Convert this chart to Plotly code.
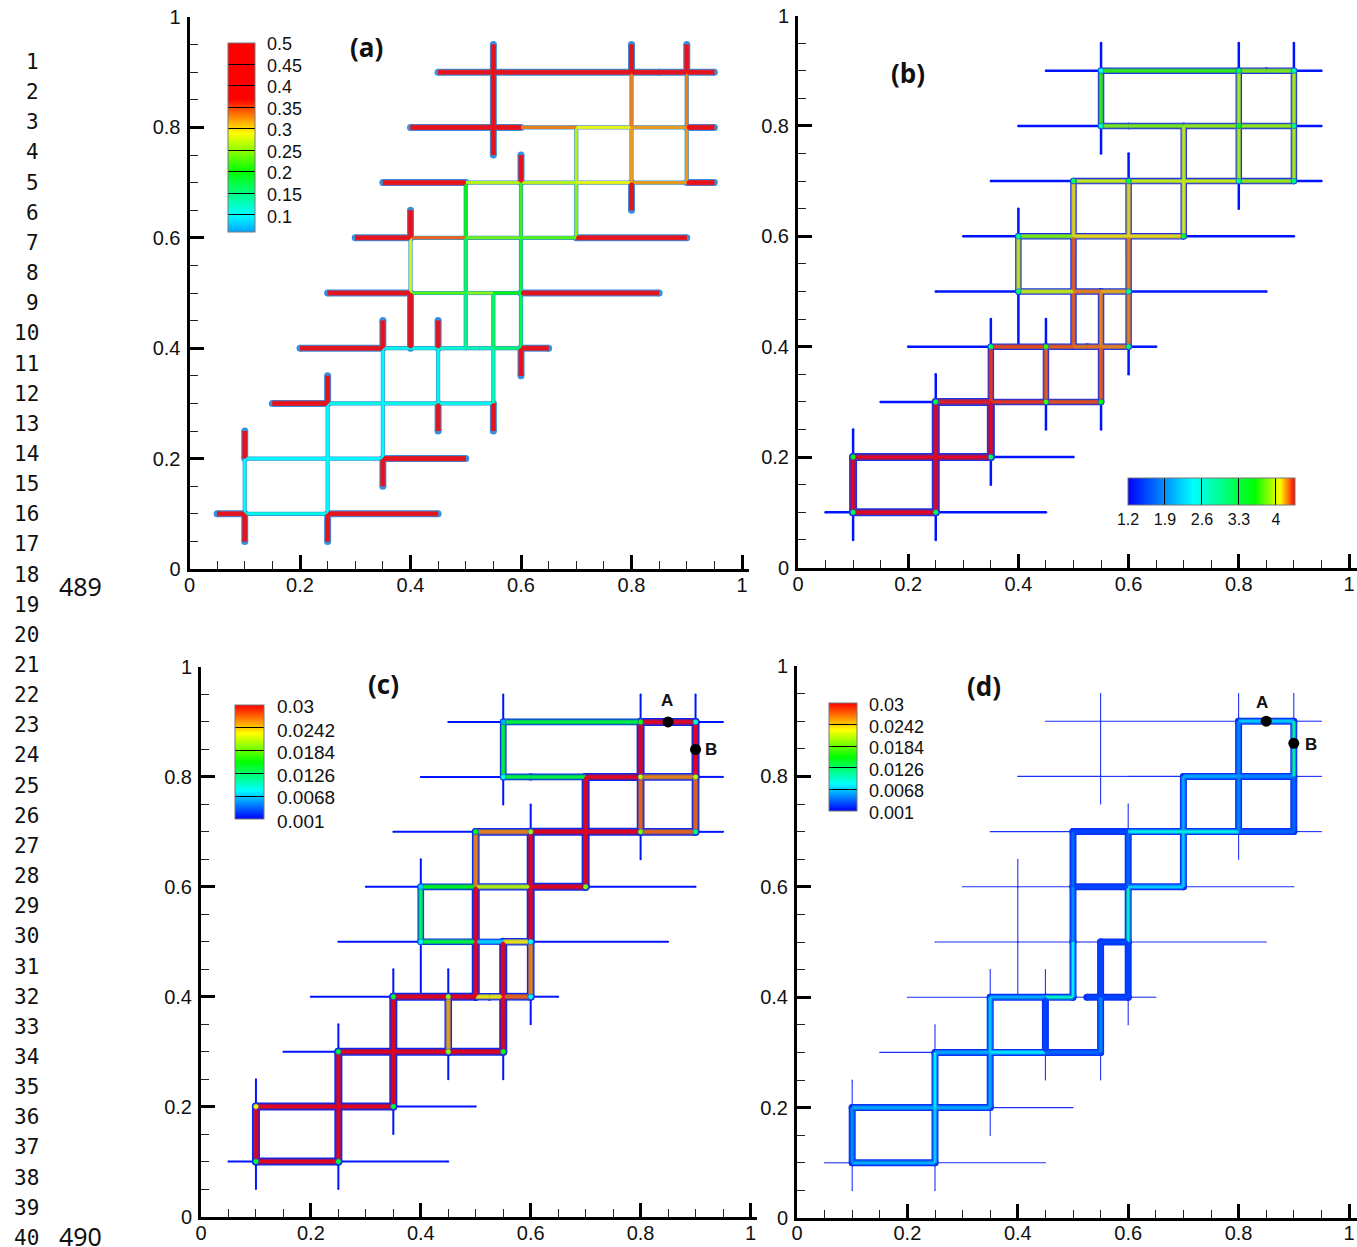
import plotly.graph_objects as go
from plotly.colors import sample_colorscale, find_intermediate_color

W, H = 1357, 1247

# Fracture network: one row per fracture piece
SEG_X0 = [.05,.1,.25, .1,.25,.35, .15,.25,.35,.45, .2,.35,.45,.5,.525,.55,.6, .25,.4,.5,.55,.6, .3,.4,.5,.6,.7,
          .35,.5,.6,.7,.8,.9, .4,.55,.6,.7,.8,.9, .45,.55,.8,.85,.9,
          .1,.1,.1, .25,.25,.25,.25, .35,.35,.35,.35, .45,.45,.45, .55,.55,.55, .4,.4,.4, .5,.5,.5,
          .6,.6,.6,.6,.6, .7,.7, .55,.55,.55, .8,.8,.8,.8, .9,.9,.9]
SEG_Y0 = [.1,.1,.1, .2,.2,.2, .3,.3,.3,.3, .4,.4,.4,.4,.4,.4,.4, .5,.5,.5,.5,.5, .6,.6,.6,.6,.6,
          .7,.7,.7,.7,.7,.7, .8,.8,.8,.8,.8,.8, .9,.9,.9,.9,.9,
          .05,.1,.2, .05,.1,.2,.3, .15,.2,.3,.4, .25,.3,.4, .25,.3,.4, .4,.5,.6, .4,.5,.6,
          .35,.4,.5,.6,.7, .6,.7, .75,.8,.9, .65,.7,.8,.9, .7,.8,.9]
SEG_X1 = [.1,.25,.45, .25,.35,.5, .25,.35,.45,.55, .35,.45,.5,.525,.55,.6,.65, .4,.5,.55,.6,.85, .4,.5,.6,.7,.9,
          .5,.6,.7,.8,.9,.95, .55,.6,.7,.8,.9,.95, .55,.8,.85,.9,.95,
          .1,.1,.1, .25,.25,.25,.25, .35,.35,.35,.35, .45,.45,.45, .55,.55,.55, .4,.4,.4, .5,.5,.5,
          .6,.6,.6,.6,.6, .7,.7, .55,.55,.55, .8,.8,.8,.8, .9,.9,.9]
SEG_Y1 = [.1,.1,.1, .2,.2,.2, .3,.3,.3,.3, .4,.4,.4,.4,.4,.4,.4, .5,.5,.5,.5,.5, .6,.6,.6,.6,.6,
          .7,.7,.7,.7,.7,.7, .8,.8,.8,.8,.8,.8, .9,.9,.9,.9,.9,
          .1,.2,.25, .1,.2,.3,.35, .2,.3,.4,.45, .3,.4,.45, .3,.4,.5, .5,.6,.65, .5,.6,.7,
          .4,.5,.6,.7,.75, .7,.8, .8,.9,.95, .7,.8,.9,.95, .8,.9,.95]

VALUES_A = [.45,.11,.45, .1,.1,.45, .45,.11,.11,.11, .45,.11,.12,.13,.13,.16,.45, .45,.23,.25,.2,.45, .45,.34,.24,.23,.45,
            .45,.27,.27,.29,.32,.45, .45,.45,.33,.29,.32,.45, .45,.45,.45,.45,.45,
            .45,.1,.45, .45,.1,.1,.45, .45,.1,.1,.45, .45,.11,.45, .45,.13,.17, .45,.28,.45, .15,.17,.2,
            .45,.17,.18,.22,.45, .25,.27, .45,.45,.45, .45,.32,.33,.45, .32,.33,.45]
VALUES_B = [1.2,4.36,1.2, 4.36,4.36,1.2, 1.2,4.33,4.3,4.27, 1.2,4.27,4.25,4.22,4.22,4.2,1.2, 1.2,4.0,4.2,4.15,1.2, 1.2,3.85,4.1,4.1,1.2,
            1.2,4.0,4.0,4.0,3.9,1.2, 1.2,3.85,3.85,3.9,3.9,1.2, 1.2,3.7,3.85,3.85,1.2,
            1.2,4.36,1.2, 1.2,4.36,4.36,1.2, 1.2,4.36,4.3,1.2, 1.2,4.25,1.2, 1.2,4.25,4.2, 1.2,4.0,1.2, 4.25,4.25,4.1,
            1.2,4.2,4.2,4.1,1.2, 4.05,4.0, 1.2,3.7,1.2, 1.2,3.95,3.95,1.2, 3.95,3.95,1.2]
VALUES_C = [.001,.03,.001, .03,.03,.001, .001,.03,.03,.03, .001,.03,.03,.023,.023,.027,.001, .001,.014,.007,.023,.001, .001,.015,.021,.03,.001,
            .001,.026,.03,.03,.027,.001, .001,.014,.014,.03,.026,.001, .001,.014,.03,.03,.001,
            .001,.03,.001, .001,.03,.03,.001, .001,.03,.03,.001, .001,.025,.001, .001,.03,.03, .001,.013,.001, .03,.03,.026,
            .001,.026,.03,.03,.001, .03,.03, .001,.014,.001, .001,.027,.03,.001, .027,.03,.001]
VALUES_D = [.001,.006,.001, .006,.006,.001, .001,.006,.008,.004, .001,.006,.01,.001,.003,.003,.001, .001,.001,.001,.003,.001, .001,.001,.003,.007,.001,
            .001,.003,.009,.009,.004,.001, .001,.001,.001,.006,.005,.001, .001,.001,.007,.007,.001,
            .001,.005,.001, .001,.007,.008,.001, .001,.006,.007,.001, .001,.003,.001, .001,.005,.003, .001,.001,.001, .008,.005,.004,
            .001,.003,.01,.004,.001, .007,.006, .001,.001,.001, .001,.005,.005,.001, .004,.011,.001]

NODE_X = [.1,.1,.25,.25,.35,.35,.45,.45,.55,.6,.6,.4,.4,.5,.6,.55,.55,.8,.9,.9,.9,.8,.7,.5,.8]
NODE_Y = [.1,.2,.1,.3,.2,.4,.3,.4,.3,.4,.5,.5,.6,.7,.7,.8,.9,.9,.9,.8,.7,.7,.6,.7,.8]
NODE_B = [3.2,3.6,3.2,3.3,3.2,3.2,3.7,3.7,3.6,3.1,3.0,3.1,3.0,3.2,3.4,2.8,2.6,3.2,2.8,3.0,3.0,3.0,3.4,3.2,3.6]
NODE_C = [.014,.023,.014,.014,.014,.014,.02,.02,.015,.009,.009,.009,.007,.015,.02,.009,.006,.016,.01,.021,.012,.019,.019,.015,.021]

POINT_C_X, POINT_C_Y = [.85, .9], [.9, .85]
POINT_D_X, POINT_D_Y = [.85, .9], [.9, .86]

TICKS_A = [.5,.45,.4,.35,.3,.25,.2,.15,.1]
TICK_TEXT_A = ["0.5","0.45","0.4","0.35","0.3","0.25","0.2","0.15","0.1"]
TICKS_B = [1.2,1.9,2.6,3.3,4.0]
TICK_TEXT_B = ["1.2","1.9","2.6","3.3","4"]
TICKS_C = [.03,.0242,.0184,.0126,.0068,.001]
TICK_TEXT_C = ["0.03","0.0242","0.0184","0.0126","0.0068","0.001"]
LINE_NUMBERS = list(range(1, 41))
PAGE_NUMBERS = ["489", "490"]

BLUE, CYAN, LIME, YEL, RED = "rgb(0,0,255)", "rgb(0,255,255)", "rgb(0,255,0)", "rgb(255,255,0)", "rgb(255,0,0)"
SCALE_A = [[0, "rgb(0,165,255)"], [.04/.44, CYAN], [.14/.44, LIME], [.23/.44, YEL], [.31/.44, RED], [1, RED]]
SCALE_B = [[0, BLUE], [.39, CYAN], [.76, LIME], [.91, YEL], [1, RED]]
SCALE_C = [[0, BLUE], [.25, CYAN], [.5, LIME], [.75, YEL], [1, RED]]

FONT = "Liberation Sans"
fig = go.Figure()


def px_x(p):
    return p / W


def px_y(p):
    return 1 - p / H


def add_axes(n, x0, x1, xend, y1, y0, xstand):
    """x0/x1: pixel of 0/1 on x; y1/y0: pixel of 1/0 on y; xend: end of the axis line."""
    common = dict(showgrid=False, zeroline=False, showline=True, linecolor="black", linewidth=3,
                  ticks="inside", ticklen=14, tickwidth=3, tickcolor="black",
                  tick0=0, dtick=.2,
                  minor=dict(dtick=.05, ticks="inside", ticklen=8, tickwidth=1, tickcolor="#222222"),
                  tickfont=dict(family=FONT, size=20, color="#111111"))
    fig.update_layout(**{
        f"xaxis{n}": dict(common, domain=[px_x(x0), px_x(xend)], range=[0, (xend - x0) / (x1 - x0)],
                          anchor=f"y{n}", ticklabelstandoff=xstand),
        f"yaxis{n}": dict(common, domain=[px_y(y0), px_y(y1)], range=[0, 1], anchor=f"x{n}", ticklabelstandoff=2),
    })


def thin_color(n):
    return {1: "rgb(58,143,220)", 2: "rgb(0,20,255)", 3: "rgb(0,20,255)", 4: "rgb(30,50,245)"}[n]


def draw_network(n, values, vmin, vmax, scale, width_rule, outline, thin_value, rim_t):
    groups = {}
    for xa, ya, xb, yb, v in zip(SEG_X0, SEG_Y0, SEG_X1, SEG_Y1, values):
        g = groups.setdefault(v, ([], []))
        g[0].extend([xa, xb, None])
        g[1].extend([ya, yb, None])
    ax = dict(xaxis=f"x{n}", yaxis=f"y{n}", hoverinfo="skip", showlegend=False)
    order = sorted(groups, key=lambda v: width_rule(v)[0])
    # outer halo
    for v in order:
        xs, ys = groups[v]
        w, core = width_rule(v)
        col = outline if v != thin_value else thin_color(n)
        fig.add_trace(go.Scatter(x=xs, y=ys, mode="lines+markers", line=dict(color=col, width=w),
                                 marker=dict(color=col, size=w, line=dict(width=0)), **ax))
    # blended rim
    for v in order:
        xs, ys = groups[v]
        w, core = width_rule(v)
        if core == 0:
            continue
        c = sample_colorscale(scale, [(v - vmin) / (vmax - vmin)])[0]
        fig.add_trace(go.Scatter(x=xs, y=ys, mode="lines",
                                 line=dict(color=find_intermediate_color(outline, c, rim_t, colortype="rgb"),
                                           width=(w + core) / 2), **ax))
    # core
    for v in order:
        xs, ys = groups[v]
        w, core = width_rule(v)
        if core == 0:
            continue
        frac = (v - vmin) / (vmax - vmin)
        c = sample_colorscale(scale, [frac])[0]
        c = find_intermediate_color(outline, c, .97 - .11 * frac, colortype="rgb")
        fig.add_trace(go.Scatter(x=xs, y=ys, mode="lines", line=dict(color=c, width=core), **ax))


def add_colorbar(n, scale, vmin, vmax, ticks, **cb):
    fig.add_trace(go.Scatter(
        x=[.5], y=[.5], xaxis=f"x{n}", yaxis=f"y{n}", mode="markers", hoverinfo="skip", showlegend=False,
        marker=dict(size=1, opacity=0, color=[vmin], cmin=vmin, cmax=vmax, colorscale=scale, showscale=True,
                    colorbar=dict(tickmode="array", tickvals=ticks, ticks="inside",
                                  tickcolor="black", tickwidth=1, outlinecolor="#777777", outlinewidth=1,
                                  thicknessmode="pixels", lenmode="pixels", xpad=0, ypad=0,
                                  xref="paper", yref="paper", **cb))))


add_axes(1, 189.5, 742, 749, 17, 569, -4)
add_axes(2, 798, 1349, 1357, 15.5, 567.5, -4)
add_axes(3, 201, 750.5, 757, 667, 1216.5, -4)
add_axes(4, 797, 1349, 1357, 666, 1218, -5)

draw_network(1, VALUES_A, .06, .5, SCALE_A, lambda v: (7, 3.2) if v >= .38 else (4.2, 2),
             "rgb(58,143,220)", None, .75)
draw_network(2, VALUES_B, 1.2, 4.36, SCALE_B, lambda v: (2.5, 0) if v == 1.2 else (6.5 + (v > 4.3) * 1.5, 2.4),
             "rgb(30,50,225)", 1.2, .6)
draw_network(3, VALUES_C, .001, .03, SCALE_C, lambda v: (2, 0) if v == .001 else (5.6 + v * 80, 3),
             "rgb(10,40,235)", .001, .55)
draw_network(4, VALUES_D, .001, .03, SCALE_C, lambda v: (1.1, 0) if v == .001 else (7, 2.2),
             "rgb(10,50,245)", .001, .5)

for n, nv, vmin, vmax, scale in [(2, NODE_B, 1.2, 4.36, SCALE_B), (3, NODE_C, .001, .03, SCALE_C)]:
    fig.add_trace(go.Scatter(x=NODE_X, y=NODE_Y, xaxis=f"x{n}", yaxis=f"y{n}", mode="markers", hoverinfo="skip",
                             showlegend=False,
                             marker=dict(size=5.5, color=nv, cmin=vmin, cmax=vmax, colorscale=scale,
                                         line=dict(color="rgb(20,60,235)", width=.6))))

for n, xs, ys in [(3, POINT_C_X, POINT_C_Y), (4, POINT_D_X, POINT_D_Y)]:
    fig.add_trace(go.Scatter(x=xs, y=ys, xaxis=f"x{n}", yaxis=f"y{n}", mode="markers", hoverinfo="skip",
                             showlegend=False, marker=dict(size=11, color="black")))

add_colorbar(1, SCALE_A, .06, .5, TICKS_A, x=px_x(228), y=px_y(232), xanchor="left", yanchor="bottom",
             thickness=27, len=189, showticklabels=False, ticklen=27)
add_colorbar(2, SCALE_B, 1.2, 4.36, TICKS_B, ticktext=TICK_TEXT_B, orientation="h", x=px_x(1128), y=px_y(478),
             xanchor="left", yanchor="top", thickness=27, len=167, ticklen=27,
             tickfont=dict(family=FONT, size=16, color="#111111"))
add_colorbar(3, SCALE_C, .001, .03, TICKS_C, x=px_x(234.5), y=px_y(819), xanchor="left", yanchor="bottom",
             thickness=29, len=114, showticklabels=False, ticklen=29)
add_colorbar(4, SCALE_C, .001, .03, TICKS_C, x=px_x(829), y=px_y(811), xanchor="left", yanchor="bottom",
             thickness=28, len=108, showticklabels=False, ticklen=28)

annotations = []


def note(text, x, y, size, family=FONT, bold=False, xanchor="center", color="#111111"):
    annotations.append(dict(text=f"<b>{text}</b>" if bold else text, x=px_x(x), y=px_y(y), xref="paper", yref="paper",
                            showarrow=False, xanchor=xanchor, yanchor="middle",
                            font=dict(family=family, size=size, color=color)))


for lab, y in zip(TICK_TEXT_A, [44, 66, 87, 109, 130, 152, 173, 195, 217]):
    note(lab, 265, y, 18, xanchor="left")
for lab, y in zip(TICK_TEXT_C, [706, 730, 752, 775, 797, 821]):
    note(lab, 275, y, 19, xanchor="left")
for lab, y in zip(TICK_TEXT_C, [705, 727, 748, 770, 791, 813]):
    note(lab, 867, y, 18, xanchor="left")

note("(a)", 366, 47, 26, "Open Sans", True)
note("(b)", 908, 73, 26, "Open Sans", True)
note("(c)", 383, 684, 26, "Open Sans", True)
note("(d)", 984, 686, 26, "Open Sans", True)
note("A", 667, 700, 17, bold=True)
note("B", 711, 749, 17, bold=True)
note("A", 1262, 702, 17, bold=True)
note("B", 1311, 744, 17, bold=True)
for i, num in enumerate(LINE_NUMBERS):
    note(str(num), 41, 62 + i * 30.15, 21, "DejaVu Sans Mono", xanchor="right")
note(PAGE_NUMBERS[0], 80, 586, 25, "Noto Sans")
note(PAGE_NUMBERS[1], 80, 1236, 25, "Noto Sans")

fig.update_layout(width=W, height=H, margin=dict(l=0, r=0, t=0, b=0, pad=0, autoexpand=False),
                  paper_bgcolor="white", plot_bgcolor="white", showlegend=False, annotations=annotations)
fig.write_html("out.html", config={"displayModeBar": False},
               post_script="document.body.style.margin='0';document.body.style.overflow='hidden';")
